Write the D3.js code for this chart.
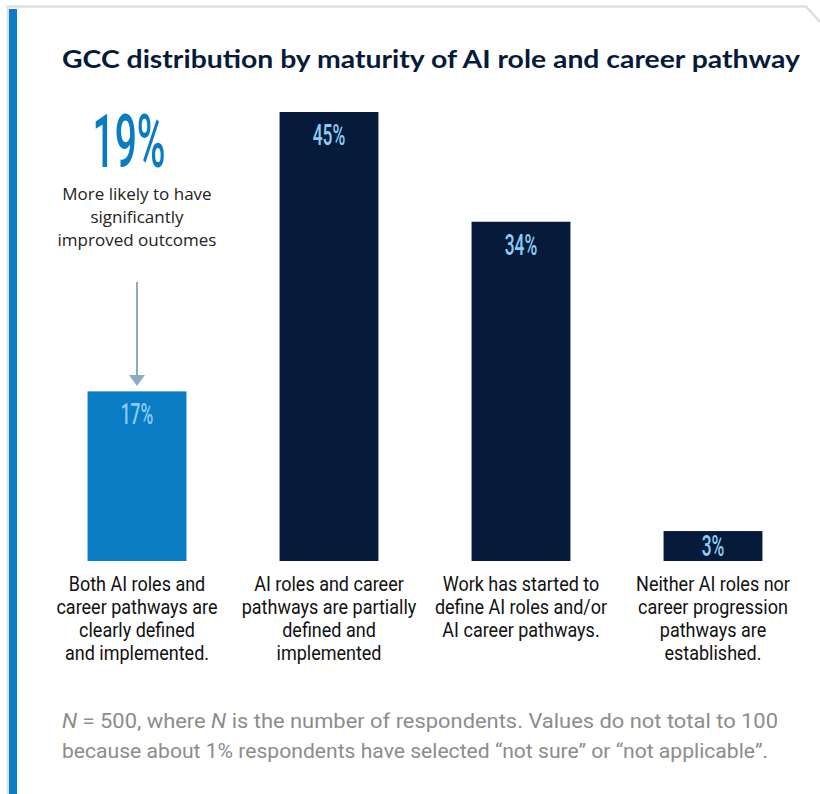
<!DOCTYPE html>
<html>
<head>
<meta charset="utf-8">
<script src="https://cdn.jsdelivr.net/npm/d3@7"></script>
<style>
  html, body { margin: 0; padding: 0; background: #fff; }
  svg { display: block; }
</style>
</head>
<body>
<svg width="820" height="794"></svg>
<script>
const categories = ["clear", "partial", "started", "neither"];
const categoryLines = [
  ["Both AI roles and", "career pathways are", "clearly defined", "and implemented."],
  ["AI roles and career", "pathways are partially", "defined and", "implemented"],
  ["Work has started to", "define AI roles and/or", "AI career pathways."],
  ["Neither AI roles nor", "career progression", "pathways are", "established."]
];
const values = [17, 45, 34, 3];
const calloutValue = 19;
const calloutLines = ["More likely to have", "significantly", "improved outcomes"];
const title = "GCC distribution by maturity of AI role and career pathway";

const svg = d3.select("svg"),
      width = +svg.attr("width"),
      height = +svg.attr("height");

const navy = "#061a3a",
      blue = "#0a7cc4",
      labelBlue = "#8ccdf7";

// frame: gray top edge with clipped corner, blue left rule
svg.append("path")
  .attr("d", `M8,${height} L8,6.5 L806,6.5 L820,22`)
  .attr("fill", "none")
  .attr("stroke", "#dedede")
  .attr("stroke-width", 2.5);
svg.append("rect")
  .attr("x", 9).attr("y", 9)
  .attr("width", 8).attr("height", height - 9)
  .attr("fill", "#0b7dc6");

svg.append("text")
  .attr("x", 62).attr("y", 68)
  .attr("textLength", 738)
  .attr("lengthAdjust", "spacingAndGlyphs")
  .style("font-family", "Lato, sans-serif")
  .style("font-weight", 700)
  .style("font-size", "24px")
  .attr("fill", navy)
  .text(title);

const x = d3.scaleBand()
  .domain(categories)
  .range([41, 809])
  .paddingInner(0.485)
  .paddingOuter(0.2425);

const y = d3.scaleLinear()
  .domain([0, 45])
  .range([561, 112]);

svg.append("g").selectAll("rect")
  .data(values)
  .enter().append("rect")
  .attr("x", (d, i) => x(categories[i]))
  .attr("y", d => y(d))
  .attr("width", x.bandwidth())
  .attr("height", d => y(0) - y(d))
  .attr("fill", (d, i) => i === 0 ? blue : navy);

// value labels, condensed
svg.append("g").selectAll("g")
  .data(values)
  .enter().append("g")
  .attr("transform", (d, i) => {
    const cx = x(categories[i]) + x.bandwidth() / 2;
    const h = y(0) - y(d);
    const ty = h < 60 ? y(d) + h / 2 + 10 : y(d) + 33;
    return `translate(${cx},${ty}) scale(0.58,1)`;
  })
  .append("text")
  .attr("text-anchor", "middle")
  .style("font-family", "Roboto, sans-serif")
  .style("font-weight", 500)
  .style("font-size", "30px")
  .attr("fill", labelBlue)
  .text(d => d + "%");

// category labels
const cat = svg.append("g").selectAll("g")
  .data(categoryLines)
  .enter().append("g")
  .attr("transform", (d, i) => `translate(${x(categories[i]) + x.bandwidth() / 2},591) scale(0.9,1)`);

cat.selectAll("text")
  .data(d => d)
  .enter().append("text")
  .attr("text-anchor", "middle")
  .attr("y", (d, i) => i * 23)
  .style("font-family", "Roboto, sans-serif")
  .style("font-size", "20px")
  .attr("fill", "#111")
  .text(d => d);

// callout
const cx0 = x(categories[0]) + x.bandwidth() / 2;
svg.append("g")
  .attr("transform", `translate(${cx0 - 8},167) scale(0.52,1)`)
  .append("text")
  .attr("text-anchor", "middle")
  .style("font-family", "Roboto, sans-serif")
  .style("font-weight", 500)
  .style("font-size", "75px")
  .attr("fill", blue)
  .text(calloutValue + "%");

svg.append("g").selectAll("text")
  .data(calloutLines)
  .enter().append("text")
  .attr("x", cx0)
  .attr("y", (d, i) => 200 + i * 23)
  .attr("text-anchor", "middle")
  .style("font-family", "'Open Sans', sans-serif")
  .style("font-size", "17px")
  .attr("fill", "#222")
  .text(d => d);

svg.append("line")
  .attr("x1", cx0).attr("x2", cx0)
  .attr("y1", 282).attr("y2", 376)
  .attr("stroke", "#8ea9c2")
  .attr("stroke-width", 2);
svg.append("path")
  .attr("d", `M${cx0 - 8},375 L${cx0 + 8},375 L${cx0},386 Z`)
  .attr("fill", "#8ea9c2");

// footnote
const note = svg.append("g")
  .style("font-family", "Roboto, sans-serif")
  .style("font-size", "21px")
  .attr("fill", "#8c8c8c");

const l1 = note.append("text")
  .attr("x", 62).attr("y", 728)
  .attr("textLength", 716)
  .attr("lengthAdjust", "spacingAndGlyphs");
l1.append("tspan").style("font-style", "italic").text("N");
l1.append("tspan").text(" = 500, where ");
l1.append("tspan").style("font-style", "italic").text("N");
l1.append("tspan").text(" is the number of respondents. Values do not total to 100");

note.append("text")
  .attr("x", 62).attr("y", 758)
  .attr("textLength", 706)
  .attr("lengthAdjust", "spacingAndGlyphs")
  .text("because about 1% respondents have selected \u201cnot sure\u201d or \u201cnot applicable\u201d.");
</script>
</body>
</html>
